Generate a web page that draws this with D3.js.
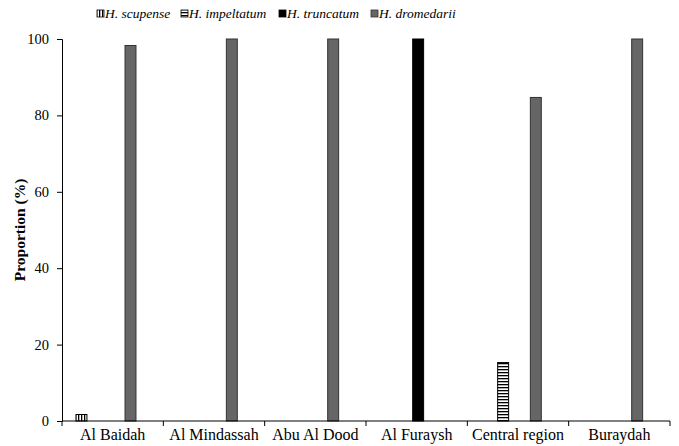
<!DOCTYPE html>
<html>
<head>
<meta charset="utf-8">
<script src="https://cdn.jsdelivr.net/npm/d3@7"></script>
</head>
<body style="margin:0">
<script>
var width = 679,
    height = 446,
    margin = {top: 39, right: 9, bottom: 25, left: 62};

var sites = ["Al Baidah", "Al Mindassah", "Abu Al Dood", "Al Furaysh", "Central region", "Buraydah"];
var species = ["H. scupense", "H. impeltatum", "H. truncatum", "H. dromedarii"];
var scupense = [1.7, 0, 0, 0, 0, 0];
var impeltatum = [0, 0, 0, 0, 15.3, 0];
var truncatum = [0, 0, 0, 100, 0, 0];
var dromedarii = [98.3, 100, 100, 0, 84.7, 100];
var yTicks = [0, 20, 40, 60, 80, 100];

var seriesValues = [scupense, impeltatum, truncatum, dromedarii];
var fills = ["url(#vstripe)", "url(#hstripe)", "#000", "#666"];
var strokes = ["#000", "#000", "#000", "#333"];

function serif(sel) {
    sel.attr("font-family", "Liberation Serif")
       .style("font-family", function() { return "'Liberation Serif'"; });
}

var svg = d3.select("body").append("svg")
    .attr("width", width)
    .attr("height", height)
    .call(serif);

var defs = svg.append("defs");
var vp = defs.append("pattern").attr("id", "vstripe")
    .attr("patternUnits", "userSpaceOnUse").attr("width", 3).attr("height", 3);
vp.append("rect").attr("width", 3).attr("height", 3).attr("fill", "#fff");
vp.append("rect").attr("width", 1.3).attr("height", 3).attr("fill", "#000");
var hp = defs.append("pattern").attr("id", "hstripe")
    .attr("patternUnits", "userSpaceOnUse").attr("width", 3).attr("height", 3);
hp.append("rect").attr("width", 3).attr("height", 3).attr("fill", "#fff");
hp.append("rect").attr("width", 3).attr("height", 1.3).attr("fill", "#000");

var x = d3.scaleBand()
    .domain(sites)
    .range([margin.left, width - margin.right]);

var inner = d3.scaleBand()
    .domain(d3.range(species.length))
    .range([x.bandwidth() * 0.138, x.bandwidth() * 0.73])
    .paddingInner(0.33)
    .paddingOuter(0);

var y = d3.scaleLinear()
    .domain([0, 100])
    .range([height - margin.bottom, margin.top]);

// bars
seriesValues.forEach(function(vals, s) {
    svg.append("g").selectAll("rect")
        .data(vals.map(function(v, i) { return {site: sites[i], value: v}; })
            .filter(function(d) { return d.value > 0; }))
      .enter().append("rect")
        .attr("x", function(d) { return x(d.site) + inner(s); })
        .attr("y", function(d) { return y(d.value); })
        .attr("width", inner.bandwidth())
        .attr("height", function(d) { return y(0) - y(d.value); })
        .attr("fill", fills[s])
        .attr("stroke", strokes[s])
        .attr("stroke-width", 1);
});

// y axis line and ticks from d3.axisLeft, labels as plain texts
svg.append("g")
    .attr("transform", "translate(" + margin.left + ",0)")
    .call(d3.axisLeft(y).tickValues(yTicks).tickSize(5).tickFormat(""));
svg.selectAll("text.ytick")
    .data(yTicks)
  .enter().append("text")
    .attr("class", "ytick")
    .attr("x", margin.left - 13)
    .attr("y", function(d) { return y(d) + 5; })
    .attr("text-anchor", "end")
    .attr("font-size", 14.5)
    .call(serif)
    .text(function(d) { return d; });

// x axis with boundary ticks
var xg = svg.append("g")
    .attr("transform", "translate(0," + y(0) + ")");
xg.append("line")
    .attr("x1", margin.left).attr("x2", width - margin.right)
    .attr("stroke", "#000");
var bounds = sites.map(function(s) { return x(s); }).concat([x.range()[1]]);
xg.selectAll("line.tk").data(bounds).enter().append("line")
    .attr("class", "tk")
    .attr("x1", function(d) { return d; }).attr("x2", function(d) { return d; })
    .attr("y1", 0).attr("y2", 5)
    .attr("stroke", "#000");
svg.selectAll("text.xlab").data(sites).enter().append("text")
    .attr("class", "xlab")
    .attr("x", function(d) { return x(d) + x.bandwidth() / 2; })
    .attr("y", y(0) + 19)
    .attr("text-anchor", "middle")
    .attr("font-size", 16)
    .call(serif)
    .text(function(d) { return d; });

// y label
svg.append("text")
    .attr("transform", "translate(25," + (y(50)) + ")rotate(-90)")
    .attr("text-anchor", "middle")
    .attr("font-size", 15.5)
    .attr("font-weight", "bold")
    .call(serif)
    .text("Proportion (%)");

// legend
var legendX = [97, 181, 279, 371];
svg.selectAll("rect.key")
    .data(species)
  .enter().append("rect")
    .attr("class", "key")
    .attr("x", function(d, i) { return legendX[i]; })
    .attr("y", 10)
    .attr("width", 7).attr("height", 7)
    .attr("fill", function(d, i) { return fills[i]; })
    .attr("stroke", function(d, i) { return strokes[i]; })
    .attr("stroke-width", 0.8);
svg.selectAll("text.key")
    .data(species)
  .enter().append("text")
    .attr("class", "key")
    .attr("x", function(d, i) { return legendX[i] + 8; })
    .attr("y", 18)
    .attr("font-size", 13.5)
    .attr("font-style", "italic")
    .call(serif)
    .text(function(d) { return d; });
</script>
</body>
</html>
